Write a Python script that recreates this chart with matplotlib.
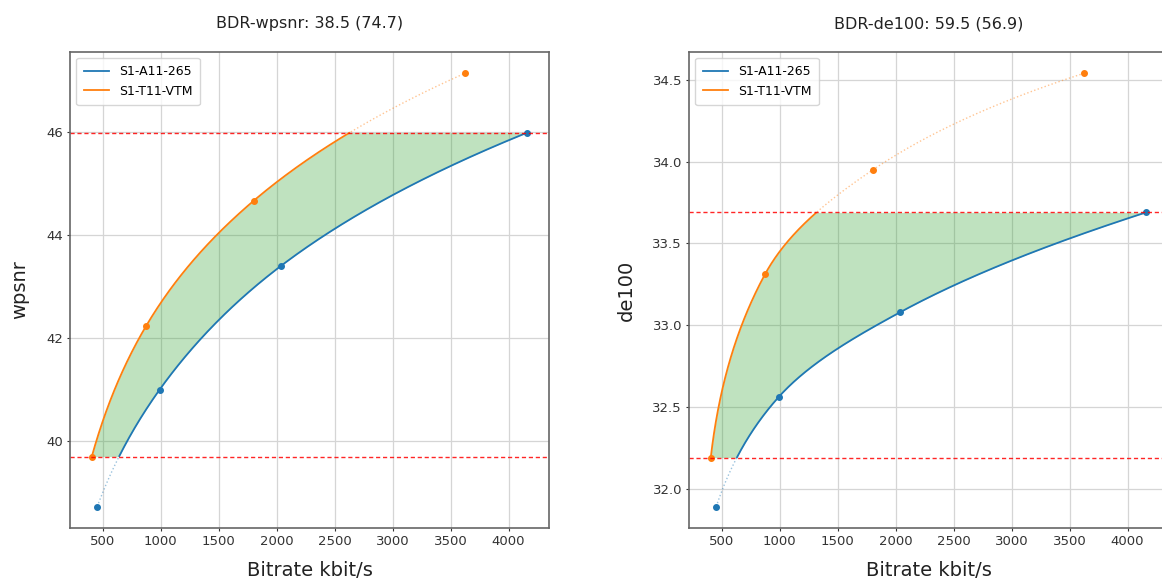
import numpy as np
import matplotlib
matplotlib.use("Agg")
import matplotlib.pyplot as plt

# ---- data ----
rate_a = [452, 990, 2041, 4161]          # S1-A11-265 bitrates (kbit/s)
rate_t = [405, 872, 1803, 3622]          # S1-T11-VTM bitrates (kbit/s)
wpsnr_a = [38.73, 41.00, 43.41, 45.99]
wpsnr_t = [39.70, 42.23, 44.67, 47.14]
de100_a = [31.89, 32.56, 33.08, 33.69]
de100_t = [32.19, 33.31, 33.95, 34.54]
names = ["S1-A11-265", "S1-T11-VTM"]
titles = ["BDR-wpsnr: 38.5 (74.7)", "BDR-de100: 59.5 (56.9)"]
ylabels = ["wpsnr", "de100"]
xticks = [500, 1000, 1500, 2000, 2500, 3000, 3500, 4000]


def pchip(xk, yk, xq):
    """Monotone piecewise cubic Hermite interpolation (Fritsch-Carlson)."""
    xk = np.asarray(xk, float); yk = np.asarray(yk, float)
    h = np.diff(xk); d = np.diff(yk) / h
    n = len(xk); m = np.zeros(n)
    for k in range(1, n - 1):
        if d[k - 1] * d[k] > 0:
            w1 = 2 * h[k] + h[k - 1]; w2 = h[k] + 2 * h[k - 1]
            m[k] = (w1 + w2) / (w1 / d[k - 1] + w2 / d[k])
    def edge(h0, h1, d0, d1):
        v = ((2 * h0 + h1) * d0 - h0 * d1) / (h0 + h1)
        if np.sign(v) != np.sign(d0):
            v = 0.0
        elif np.sign(d0) != np.sign(d1) and abs(v) > abs(3 * d0):
            v = 3 * d0
        return v
    m[0] = edge(h[0], h[1], d[0], d[1])
    m[-1] = edge(h[-1], h[-2], d[-1], d[-2])
    xq = np.asarray(xq, float)
    idx = np.clip(np.searchsorted(xk, xq) - 1, 0, n - 2)
    t = (xq - xk[idx]) / h[idx]
    h00 = 2 * t**3 - 3 * t**2 + 1; h10 = t**3 - 2 * t**2 + t
    h01 = -2 * t**3 + 3 * t**2; h11 = t**3 - t**2
    return (h00 * yk[idx] + h10 * h[idx] * m[idx] +
            h01 * yk[idx + 1] + h11 * h[idx] * m[idx + 1])


def rd_curve(rates, qual, q):
    return np.exp(pchip(qual, np.log(rates), q))


fig = plt.figure(figsize=(11.62, 5.84), dpi=100)
W = 479 / 1162
H = (528.3 - 51.7) / 584
B = 1 - 528.3 / 584
axes = [fig.add_axes([70 / 1162, B, W, H]), fig.add_axes([689 / 1162, B, W, H])]

panels = [(wpsnr_a, wpsnr_t), (de100_a, de100_t)]
colors = ["#1f77b4", "#ff7f0e"]

for ax, (qa, qt), title, ylab in zip(axes, panels, titles, ylabels):
    lo = max(min(qa), min(qt))
    hi = min(max(qa), max(qt))
    for rates, q, c, name in zip([rate_a, rate_t], [qa, qt], colors, names):
        qq = np.linspace(min(q), max(q), 400)
        rr = rd_curve(rates, q, qq)
        inside = (qq >= lo) & (qq <= hi)
        ax.plot(rr[qq <= lo + 1e-9], qq[qq <= lo + 1e-9], ls=":", lw=1.0,
                color=c, alpha=0.45)
        ax.plot(rr[qq >= hi - 1e-9], qq[qq >= hi - 1e-9], ls=":", lw=1.0,
                color=c, alpha=0.45)
        ax.plot(rr[inside], qq[inside], color=c, lw=1.3, label=name)
        ax.plot(rates, q, "o", color=c, ms=4)
    qf = np.linspace(lo, hi, 400)
    ax.fill_betweenx(qf, rd_curve(rate_a, qa, qf), rd_curve(rate_t, qt, qf),
                     color="#2ca02c", alpha=0.3, lw=0)
    ax.axhline(lo, color="red", ls=(0, (3, 2)), lw=1.0, alpha=0.85)
    ax.axhline(hi, color="red", ls=(0, (3, 2)), lw=1.0, alpha=0.85)

    ax.set_xticks(xticks)
    ax.grid(True, color="#d5d5d5", lw=0.9)
    ax.set_axisbelow(True)
    ax.tick_params(labelsize=9.5, length=2.5, pad=2.5, colors="#333333")
    for s in ax.spines.values():
        s.set_color("#666666")
        s.set_linewidth(1.2)
    ax.set_title(title, fontsize=11.5, pad=17, color="#222222")
    ax.set_xlabel("Bitrate kbit/s", fontsize=14, labelpad=9, color="#222222")
    ax.set_ylabel(ylab, fontsize=14, labelpad=12, color="#222222")
    ax.legend(loc="upper left", fontsize=9, framealpha=0.8, edgecolor="#cccccc",
              fancybox=True, borderpad=0.6)

axes[0].set_yticks([40, 42, 44, 46])
axes[1].set_yticks([32.0, 32.5, 33.0, 33.5, 34.0, 34.5])
axes[1].yaxis.set_major_formatter(matplotlib.ticker.FormatStrFormatter("%.1f"))
axes[1].spines["right"].set_visible(False)

fig.savefig("out.png", dpi=100)
